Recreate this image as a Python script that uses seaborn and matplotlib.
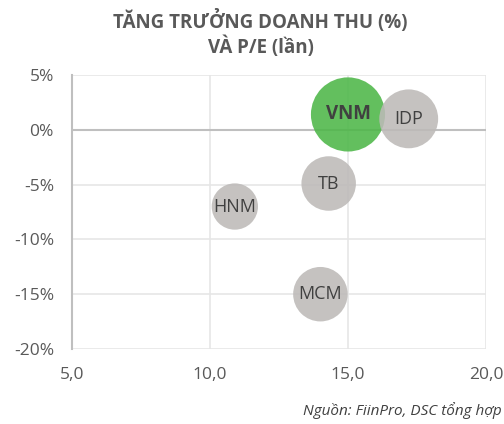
import pandas as pd
import matplotlib.pyplot as plt
import seaborn as sns
from matplotlib.ticker import FuncFormatter

# Dữ liệu
ma_cp = ['VNM', 'IDP', 'TB', 'HNM', 'MCM']
pe = [15.0, 17.2, 14.3, 10.9, 14.0]
tang_truong = [1.4, 1.0, -4.9, -7.0, -15.0]
quy_mo = [100, 63, 54, 39, 54]

df = pd.DataFrame({'ma': ma_cp, 'pe': pe, 'tt': tang_truong, 'qm': quy_mo})

sns.set_theme(style='white')
plt.rcParams['font.family'] = ['Open Sans', 'DejaVu Sans']

fig = plt.figure(figsize=(5.04, 4.24), dpi=100)
ax = fig.add_axes([72 / 504, 75 / 424, 414 / 504, 274 / 424])

mau = {'VNM': '#4db748', 'IDP': '#bdbab8', 'TB': '#bdbab8', 'HNM': '#bdbab8', 'MCM': '#bdbab8'}
sns.scatterplot(data=df, x='pe', y='tt', hue='ma', palette=mau, size='qm',
                sizes=(0, 2850), size_norm=(0, 100), alpha=0.88,
                edgecolor='none', legend=False, ax=ax, zorder=3)

for m, x, y in zip(ma_cp, pe, tang_truong):
    ax.text(x, y, m, ha='center', va='center', fontsize=13 if m != 'VNM' else 13.5,
            color='#404040', fontweight='bold' if m == 'VNM' else 'normal', zorder=4)

ax.set_xlim(5, 20)
ax.set_ylim(-20, 5)
ax.set_xticks([5, 10, 15, 20])
ax.set_yticks([-20, -15, -10, -5, 0, 5])
ax.xaxis.set_major_formatter(FuncFormatter(lambda v, p: f'{v:.1f}'.replace('.', ',')))
ax.yaxis.set_major_formatter(FuncFormatter(lambda v, p: f'{v:.0f}%'))
ax.grid(True, color='#e6e6e6', linewidth=1.2, zorder=0)
ax.set_axisbelow(True)
ax.axhline(0, color='#bfbfbf', linewidth=1.5, zorder=1)
for s in ['top', 'right', 'bottom']:
    ax.spines[s].set_visible(False)
ax.spines['left'].set_color('#bfbfbf')
ax.spines['left'].set_linewidth(1.5)
ax.tick_params(axis='both', labelsize=12.5, colors='#595959', length=0)
ax.tick_params(axis='x', pad=13)
ax.tick_params(axis='y', pad=13)
ax.set_xlabel('')
ax.set_ylabel('')

fig.text(0.517, 0.92, 'TĂNG TRƯỞNG DOANH THU (%)\nVÀ P/E (lần)', ha='center', va='center',
         fontsize=13.5, fontweight='bold', color='#595959', linespacing=1.25)
fig.text(0.995, 0.032, 'Nguồn: FiinPro, DSC tổng hợp', ha='right', va='center',
         fontsize=11, style='italic', color='#404040')

plt.savefig('out.png', dpi=100)
